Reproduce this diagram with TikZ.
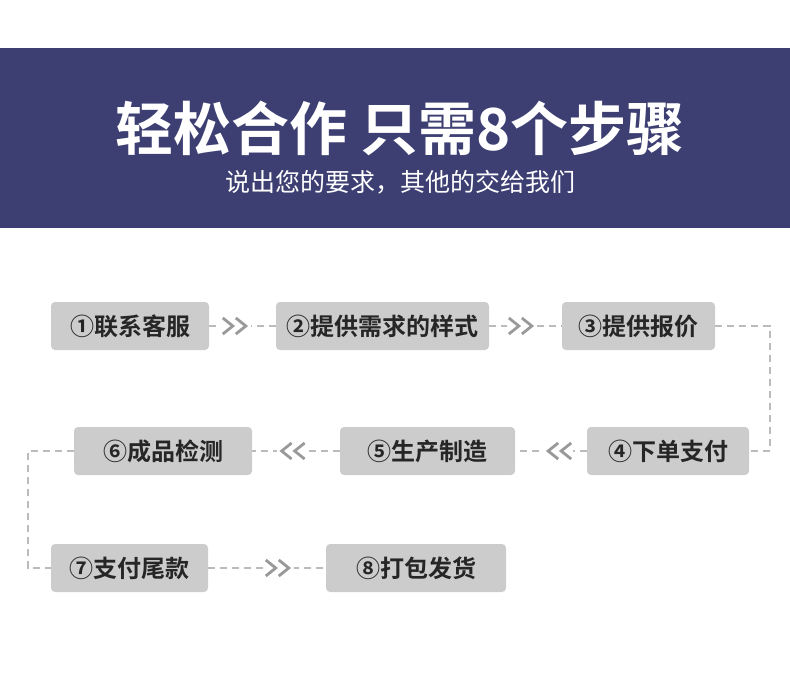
\documentclass[tikz,border=0pt]{standalone}
\usepackage{fontspec}
\setmainfont{Noto Sans CJK SC}
\newfontfamily\cjkbold{Noto Sans CJK SC Bold}
\definecolor{banner}{HTML}{3D3F73}
\definecolor{boxgray}{HTML}{CCCCCC}
\definecolor{linegray}{HTML}{BBBBBB}
\definecolor{chevgray}{HTML}{999999}
\begin{document}
\begin{tikzpicture}[x=1pt,y=-1pt,
  stepbox/.style={fill=boxgray, rounded corners=4pt, minimum height=48pt, inner sep=0pt,
    font=\cjkbold\fontsize{24}{24}\selectfont, text=black!85},
  conn/.style={linegray, dash pattern=on 7pt off 5pt, line width=1.2pt},
  pics/chevR/.style={code={
    \fill[white] (-15,-10) rectangle (15,10);
    \draw[chevgray, solid, line width=2.8pt] (-13,-8) -- (-3,0) -- (-13,8) (0,-8) -- (10,0) -- (0,8);}},
  pics/chevL/.style={code={
    \fill[white] (-15,-10) rectangle (15,10);
    \draw[chevgray, solid, line width=2.8pt] (13,-8) -- (3,0) -- (13,8) (0,-8) -- (-10,0) -- (0,8);}}]
\useasboundingbox (0,0) rectangle (790,679);
\fill[banner] (0,48) rectangle (790,228);
\node[white, font=\cjkbold\fontsize{58}{58}\selectfont] (title) at (400,128) {轻松合作 只需8个步骤};
\node[white, font=\fontsize{25}{25}\selectfont] (sub) at (400,182) {说出您的要求，其他的交给我们};

\node[stepbox, minimum width=158pt] (s1) at (130,326) {①联系客服};
\node[stepbox, minimum width=213pt] (s2) at (382.5,326) {②提供需求的样式};
\node[stepbox, minimum width=153pt] (s3) at (638.5,326) {③提供报价};
\node[stepbox, minimum width=162pt] (s4) at (668,451) {④下单支付};
\node[stepbox, minimum width=175pt] (s5) at (427.5,451) {⑤生产制造};
\node[stepbox, minimum width=178pt] (s6) at (163,451) {⑥成品检测};
\node[stepbox, minimum width=157pt] (s7) at (129.5,568) {⑦支付尾款};
\node[stepbox, minimum width=180pt] (s8) at (416,568) {⑧打包发货};

\coordinate (r1) at (770,326);
\coordinate (r2) at (770,451);
\coordinate (l1) at (28,451);
\coordinate (l2) at (28,568);

\draw[conn] (s1) -- pic[pos=.4]{chevR} (s2);
\draw[conn] (s2) -- pic[pos=.45]{chevR} (s3);
\draw[conn] (s3) -- (r1) -- (r2) -- (s4);
\draw[conn] (s4) -- pic[pos=.4]{chevL} (s5);
\draw[conn] (s5) -- pic[pos=.55]{chevL} (s6);
\draw[conn] (s6) -- (l1) -- (l2) -- (s7);
\draw[conn] (s7) -- pic[pos=.6]{chevR} (s8);
\end{tikzpicture}
\end{document}
